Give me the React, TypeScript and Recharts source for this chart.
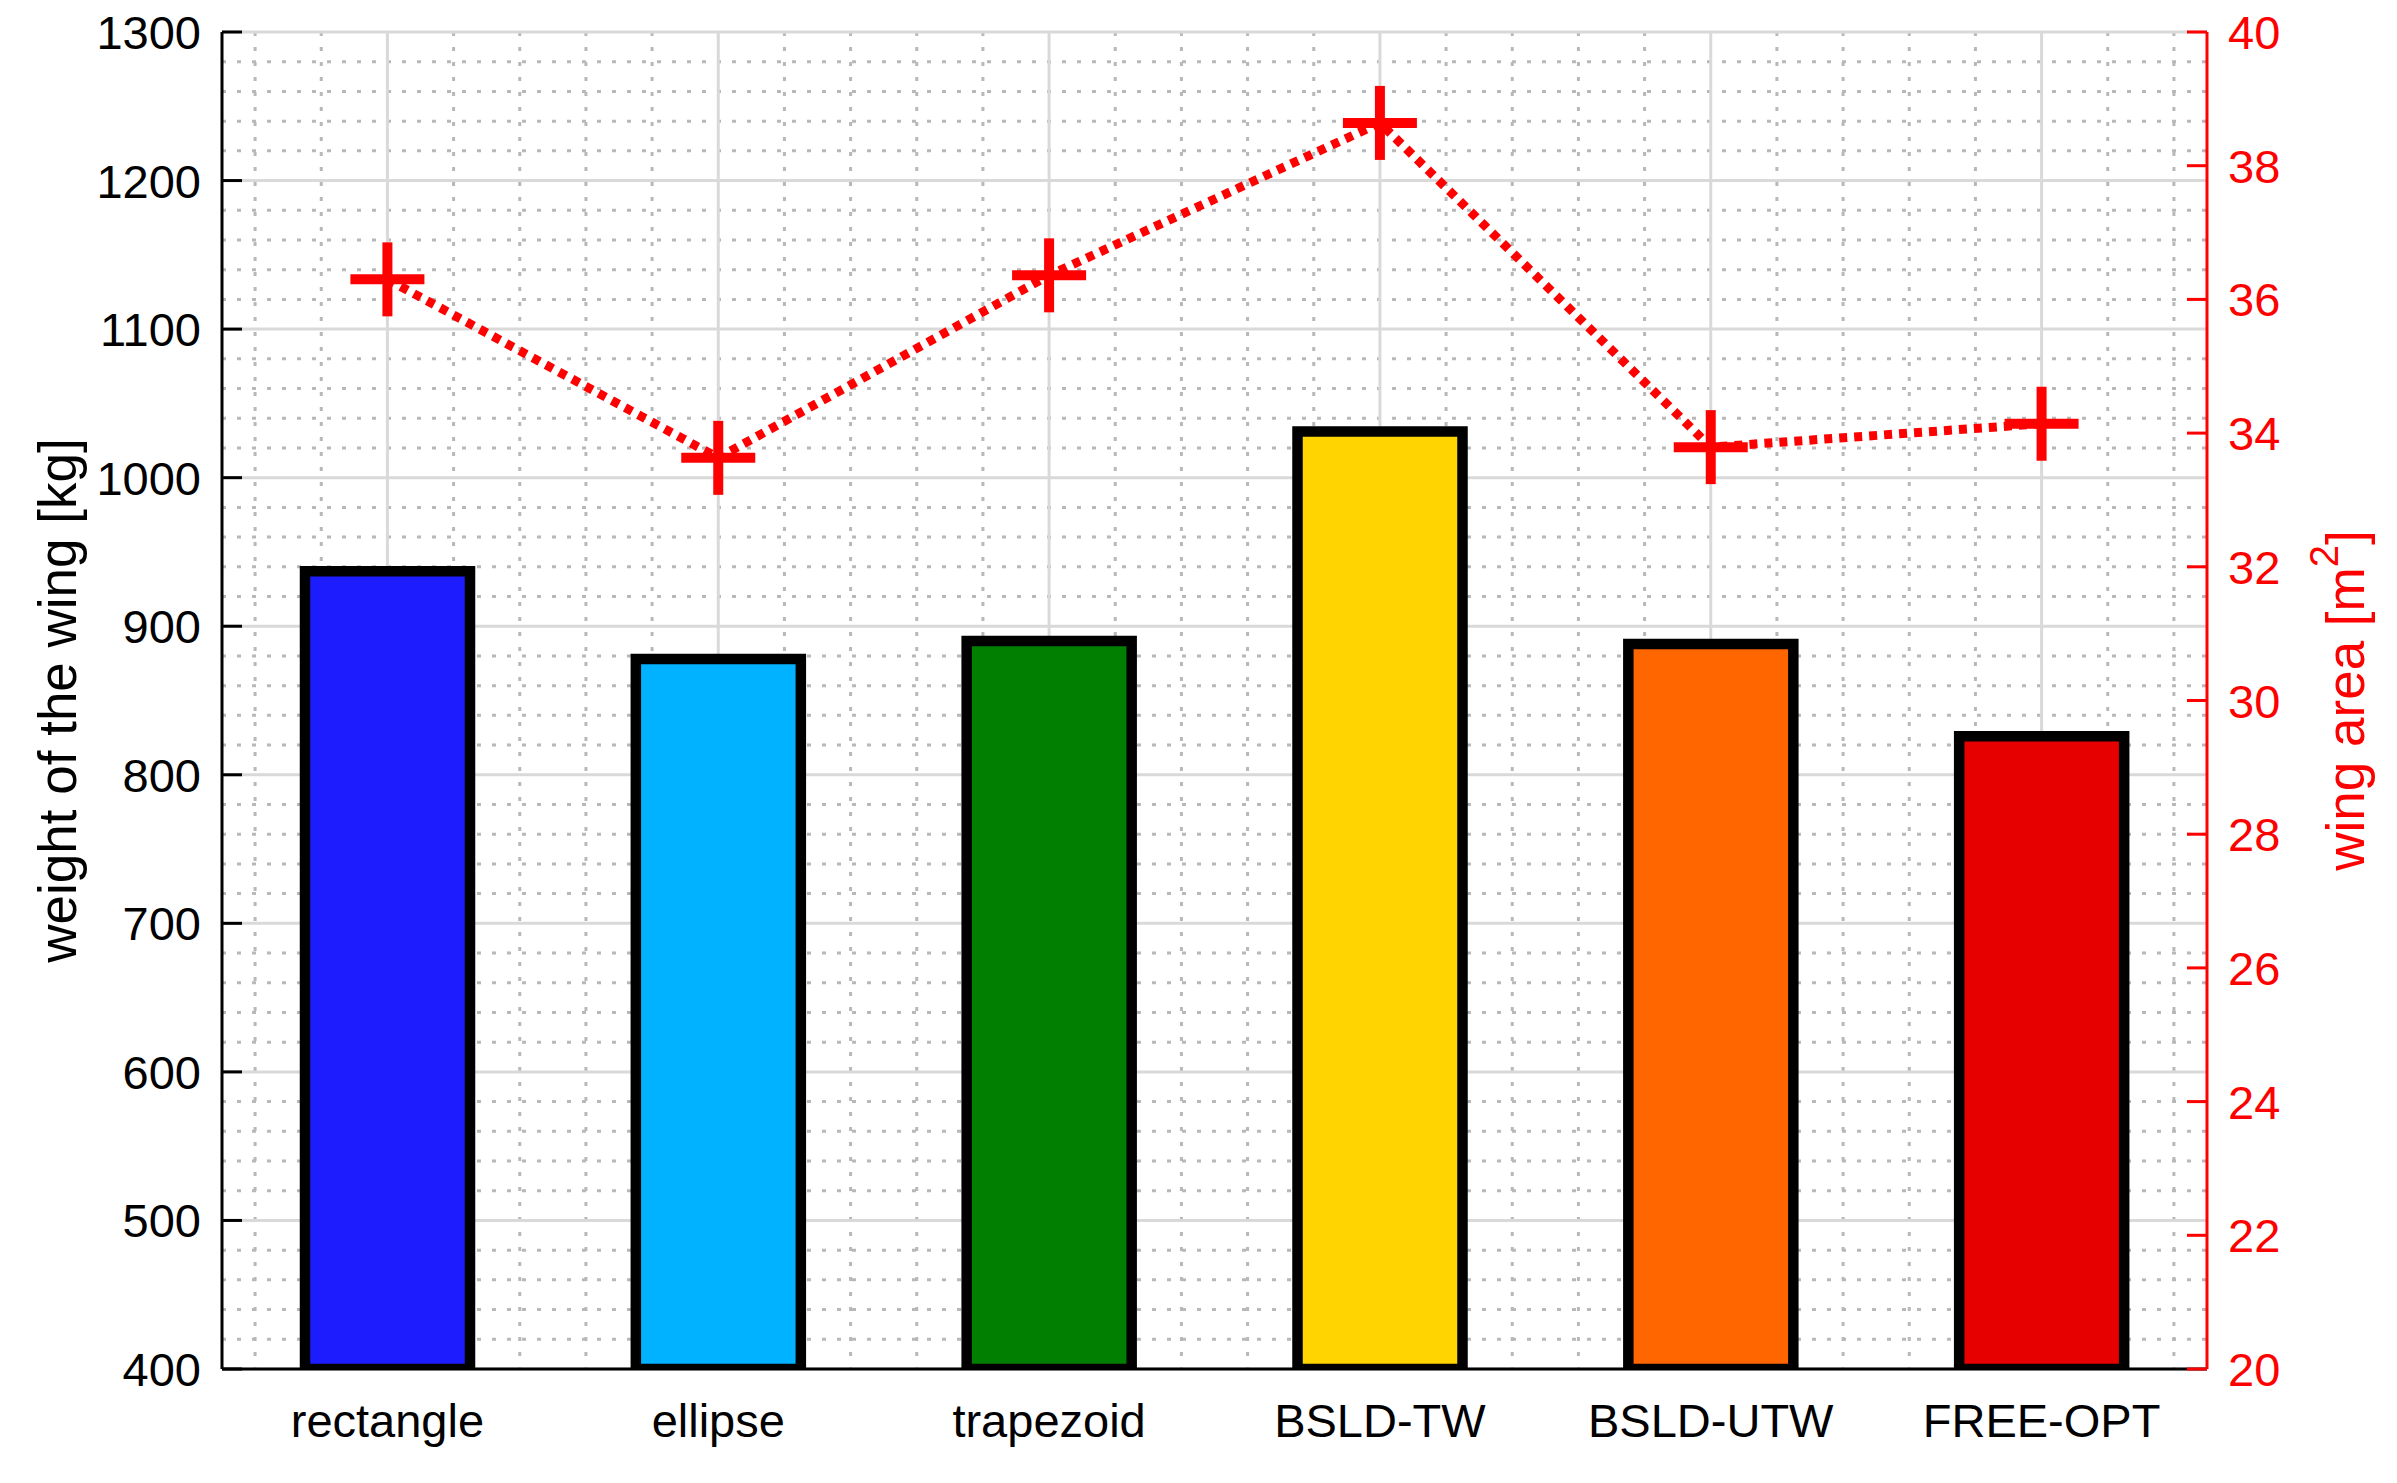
import React from 'react';
import { ComposedChart, Bar, Line, XAxis, YAxis, CartesianGrid, Cell, Label } from 'recharts';

const categories = ['rectangle', 'ellipse', 'trapezoid', 'BSLD-TW', 'BSLD-UTW', 'FREE-OPT'];
const wingWeight = [937, 878, 890, 1031, 888, 826];
const wingArea = [36.3, 33.63, 36.36, 38.64, 33.79, 34.14];
const barColors = ['#1c1cff', '#00b2ff', '#007f00', '#ffd400', '#ff6600', '#e60000'];
const weightTicks = [400, 500, 600, 700, 800, 900, 1000, 1100, 1200, 1300];
const areaTicks = [20, 22, 24, 26, 28, 30, 32, 34, 36, 38, 40];
const xPositions = [1, 2, 3, 4, 5, 6];

const minorX: number[] = [];
for (let i = 0; i < 30; i++) {
  const v = Math.round((0.6 + i * 0.2) * 10) / 10;
  if (Math.abs(v - Math.round(v)) > 0.01) minorX.push(v);
}
const minorY: number[] = [];
for (let v = 420; v < 1300; v += 20) {
  if (v % 100 !== 0) minorY.push(v);
}

const data = categories.map((name, i) => ({
  x: xPositions[i],
  name,
  weight: wingWeight[i],
  area: wingArea[i],
}));

const FONT = '"Liberation Sans", Arial, Helvetica, sans-serif';
const TICK_SIZE = 47;

const LeftTick = (props: any) => {
  const { x, y, payload } = props;
  return (
    <g>
      <line x1={x} x2={x + 20} y1={y} y2={y} stroke="#000" strokeWidth={3} />
      <text x={x - 21} y={y + 17} textAnchor="end" fontSize={TICK_SIZE} fontFamily={FONT} fill="#000">
        {payload.value}
      </text>
    </g>
  );
};

const RightTick = (props: any) => {
  const { x, y, payload } = props;
  return (
    <g>
      <line x1={x - 20} x2={x} y1={y} y2={y} stroke="#ff0000" strokeWidth={3} />
      <text x={x + 21} y={y + 17} textAnchor="start" fontSize={TICK_SIZE} fontFamily={FONT} fill="#ff0000">
        {payload.value}
      </text>
    </g>
  );
};

const BottomTick = (props: any) => {
  const { x, y, payload } = props;
  const idx = xPositions.indexOf(payload.value);
  return (
    <text x={x} y={y + 68} textAnchor="middle" fontSize={TICK_SIZE} fontFamily={FONT} fill="#000">
      {categories[idx] ?? ''}
    </text>
  );
};

const PlusDot = (props: any) => {
  const { cx, cy, index } = props;
  if (cx == null || cy == null) return <g key={`p-${index}`} />;
  return (
    <g key={`p-${index}`}>
      <line x1={cx - 37} x2={cx + 37} y1={cy} y2={cy} stroke="#ff0000" strokeWidth={10} />
      <line x1={cx} x2={cx} y1={cy - 37} y2={cy + 37} stroke="#ff0000" strokeWidth={10} />
    </g>
  );
};

const LeftTitle = (props: any) => {
  const { viewBox } = props;
  const cy = viewBox.y + viewBox.height / 2;
  const bx = 68;
  return (
    <text
      x={bx}
      y={cy}
      transform={`rotate(-90, ${bx}, ${cy})`}
      textAnchor="middle"
      fontSize={53}
      fontFamily={FONT}
      fill="#000"
    >
      weight of the wing [kg]
    </text>
  );
};

const RightTitle = (props: any) => {
  const { viewBox } = props;
  const cy = viewBox.y + viewBox.height / 2;
  const bx = viewBox.x + 157;
  return (
    <text
      x={bx}
      y={cy}
      transform={`rotate(-90, ${bx}, ${cy})`}
      textAnchor="middle"
      fontSize={53}
      fontFamily={FONT}
      fill="#ff0000"
    >
      wing area [m
      <tspan dy={-26} fontSize={40}>2</tspan>
      <tspan dy={26}>]</tspan>
    </text>
  );
};

export default function App() {
  return (
    <div style={{ width: 2381, height: 1475, marginTop: -8, background: '#fff' }}>
      <ComposedChart
        width={2381}
        height={1475}
        data={data}
        margin={{ top: 32, right: 0, bottom: 0, left: 0 }}
      >
        <XAxis
          xAxisId="x"
          dataKey="x"
          type="number"
          domain={[0.5, 6.5]}
          ticks={xPositions}
          allowDataOverflow
          height={106}
          axisLine={{ stroke: '#000', strokeWidth: 3 }}
          tickLine={false}
          tickSize={0}
          tickMargin={0}
          tick={<BottomTick />}
          interval={0}
        />
        <YAxis
          yAxisId="left"
          orientation="left"
          type="number"
          domain={[400, 1300]}
          ticks={weightTicks}
          allowDataOverflow
          width={214}
          axisLine={{ stroke: '#000', strokeWidth: 3 }}
          tickLine={false}
          tickSize={0}
          tickMargin={0}
          tick={<LeftTick />}
          interval={0}
        >
          <Label content={<LeftTitle />} />
        </YAxis>
        <YAxis
          yAxisId="right"
          orientation="right"
          type="number"
          domain={[20, 40]}
          ticks={areaTicks}
          allowDataOverflow
          width={182}
          axisLine={{ stroke: '#ff0000', strokeWidth: 3 }}
          tickLine={false}
          tickSize={0}
          tickMargin={0}
          tick={<RightTick />}
          interval={0}
        >
          <Label content={<RightTitle />} />
        </YAxis>
        <CartesianGrid
          xAxisId="x"
          yAxisId="left"
          verticalValues={minorX}
          horizontalValues={minorY}
          stroke="#b8b8b8"
          strokeWidth={3}
          strokeDasharray="4 11"
        />
        <CartesianGrid
          xAxisId="x"
          yAxisId="left"
          verticalValues={xPositions}
          horizontalValues={weightTicks}
          stroke="#d9d9d9"
          strokeWidth={3}
        />
        <Bar
          xAxisId="x"
          yAxisId="left"
          dataKey="weight"
          barSize={165}
          stroke="#000"
          strokeWidth={10.5}
          isAnimationActive={false}
        >
          {data.map((d, i) => (
            <Cell key={d.name} fill={barColors[i]} />
          ))}
        </Bar>
        <Line
          xAxisId="x"
          yAxisId="right"
          type="linear"
          dataKey="area"
          stroke="#ff0000"
          strokeWidth={9}
          strokeDasharray="8 7"
          dot={(p: any) => <PlusDot {...p} key={`dot-${p.index}`} />}
          activeDot={false}
          isAnimationActive={false}
        />
      </ComposedChart>
    </div>
  );
}
